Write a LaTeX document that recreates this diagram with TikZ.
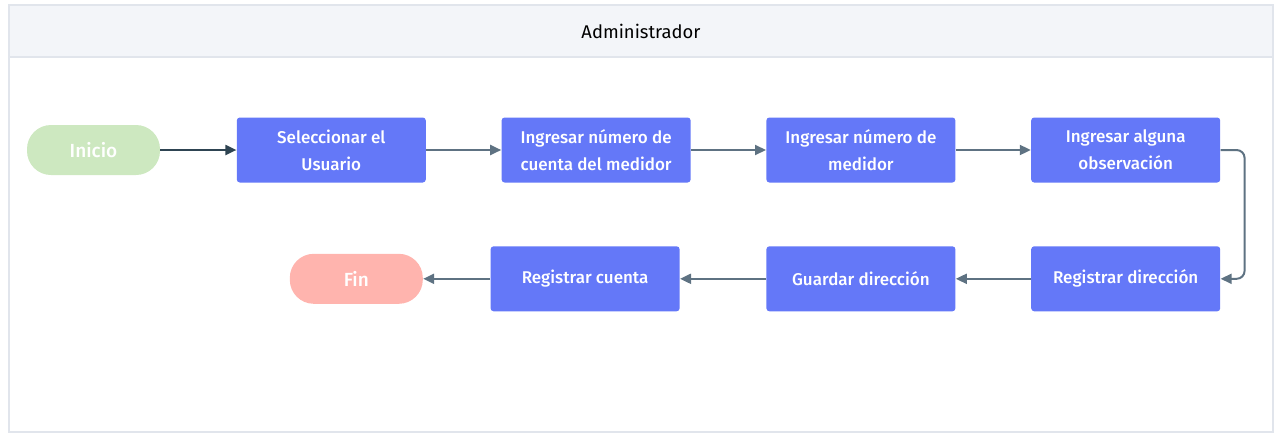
\documentclass[tikz,border=0pt]{standalone}
\usepackage{fontspec}
\setmainfont{Fira Sans}[BoldFont={Fira Sans Medium}]
\usetikzlibrary{arrows.meta,positioning}
\definecolor{stepblue}{HTML}{6478F8}
\definecolor{startgreen}{HTML}{CDE8C0}
\definecolor{endpink}{HTML}{FFB4AE}
\definecolor{linegray}{HTML}{5E7282}
\definecolor{darkline}{HTML}{2E4452}
\definecolor{lanefill}{HTML}{F3F5F9}
\definecolor{laneline}{HTML}{E1E5EC}

\begin{document}
\begin{tikzpicture}[
    x=0.5pt, y=-0.5pt,
    node distance=31.5pt and 37.5pt,
    box/.style={rectangle, fill=stepblue, rounded corners=1.5pt, align=center, text=white,
        minimum width=94.5pt, minimum height=32.5pt, inner sep=2pt,
        font=\fontsize{8.5}{13.5}\selectfont\bfseries},
    pill/.style={rectangle, rounded corners=12pt, text=white,
        minimum width=66.5pt, minimum height=25pt,
        font=\fontsize{9.5}{12}\selectfont\bfseries},
    arrow/.style={-{Triangle[length=5.5pt,width=5pt]}, line width=1pt, draw=linegray}
]
\useasboundingbox (0,0) rectangle (1279,434);
% lane
\draw[laneline, line width=1pt] (9,5) rectangle (1273,432);
\node[rectangle, fill=lanefill, draw=laneline, line width=1pt, minimum width=632pt, minimum height=26pt,
    font=\fontsize{9.2}{11}\selectfont] (lane) at (641,31) {Administrador};
% first row
\node[pill, fill=startgreen] (inicio) at (93.5,150) {Inicio};
\node[box, right=38pt of inicio] (usuario) {Seleccionar el\\Usuario};
\node[box, right=of usuario] (cuenta) {Ingresar número de\\cuenta del medidor};
\node[box, right=of cuenta] (medidor) {Ingresar número de\\medidor};
\node[box, right=of medidor] (observ) {Ingresar alguna\\observación};
% second row
\node[box, below=of observ] (regdir) {Registrar dirección};
\node[box, left=of regdir] (guardar) {Guardar dirección};
\node[box, left=43pt of guardar] (regcuenta) {Registrar cuenta};
\node[pill, fill=endpink, left=33.5pt of regcuenta] (fin) {Fin};
% connectors
\draw[arrow, draw=darkline] (inicio) -- (usuario);
\draw[arrow] (usuario) -- (cuenta);
\draw[arrow] (cuenta) -- (medidor);
\draw[arrow] (medidor) -- (observ);
\draw[arrow, rounded corners=4pt] (observ.east) -- ++(12pt,0) |- (regdir.east);
\draw[arrow] (regdir) -- (guardar);
\draw[arrow] (guardar) -- (regcuenta);
\draw[arrow] (regcuenta) -- (fin);
\end{tikzpicture}
\end{document}
